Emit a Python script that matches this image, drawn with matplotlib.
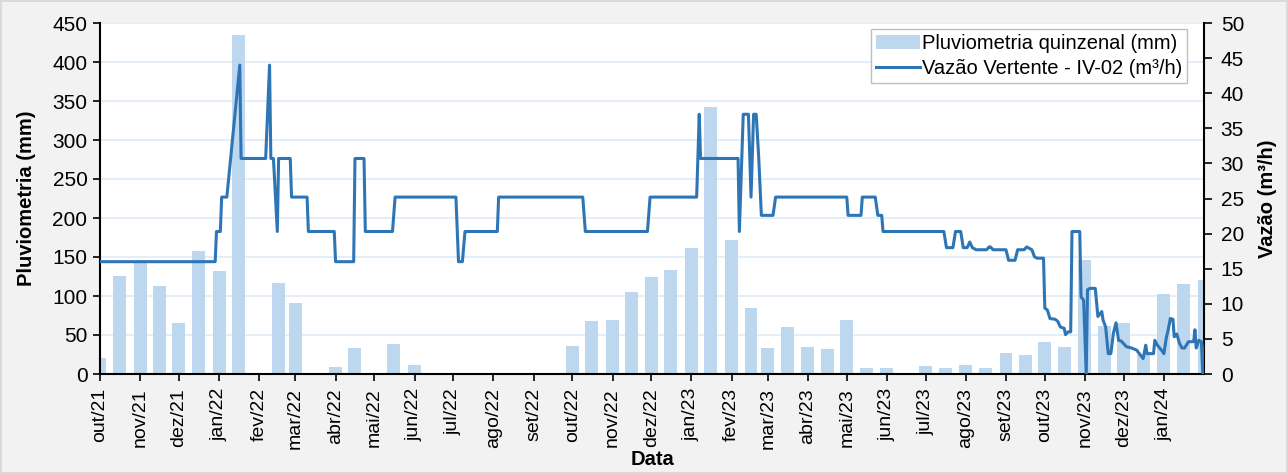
import pandas as pd
import matplotlib
matplotlib.use('Agg')
from matplotlib import pyplot as plt
from matplotlib.patches import Patch
from matplotlib.lines import Line2D

plt.rcParams['font.family'] = ['Liberation Sans', 'DejaVu Sans']

# pluviometria quinzenal (mm), dias 1 e 16 de cada mes
rain_dates = ['2021-10-01', '2021-10-16', '2021-11-01', '2021-11-16', '2021-12-01', '2021-12-16',
              '2022-01-01', '2022-01-16', '2022-02-01', '2022-02-16', '2022-03-01', '2022-03-16',
              '2022-04-01', '2022-04-16', '2022-05-01', '2022-05-16', '2022-06-01', '2022-06-16',
              '2022-07-01', '2022-07-16', '2022-08-01', '2022-08-16', '2022-09-01', '2022-09-16',
              '2022-10-01', '2022-10-16', '2022-11-01', '2022-11-16', '2022-12-01', '2022-12-16',
              '2023-01-01', '2023-01-16', '2023-02-01', '2023-02-16', '2023-03-01', '2023-03-16',
              '2023-04-01', '2023-04-16', '2023-05-01', '2023-05-16', '2023-06-01', '2023-06-16',
              '2023-07-01', '2023-07-16', '2023-08-01', '2023-08-16', '2023-09-01', '2023-09-16',
              '2023-10-01', '2023-10-16', '2023-11-01', '2023-11-16', '2023-12-01', '2023-12-16',
              '2024-01-01', '2024-01-16', '2024-02-01']
rain_mm = [20, 126, 143, 113, 65, 158,
           132, 434, 0, 117, 91, 0,
           9, 33, 0, 39, 11, 0,
           0, 0, 0, 0, 0, 0,
           36, 68, 69, 105, 124, 133,
           162, 342, 172, 85, 33, 60,
           35, 32, 69, 8, 8, 0,
           10, 8, 11, 8, 27, 24,
           41, 34, 146, 61, 66, 25,
           103, 116, 121]

# vazao vertente IV-02 (m3/h)
flow_dates = ['2021-10-01', '2021-12-29', '2021-12-30', '2022-01-02', '2022-01-03', '2022-01-07',
              '2022-01-17', '2022-01-18', '2022-02-06', '2022-02-09', '2022-02-10', '2022-02-12',
              '2022-02-15', '2022-02-16', '2022-02-25', '2022-02-26', '2022-03-10', '2022-03-11',
              '2022-03-31', '2022-04-01', '2022-04-15', '2022-04-16', '2022-04-23', '2022-04-24',
              '2022-05-15', '2022-05-17', '2022-07-03', '2022-07-05', '2022-07-08', '2022-07-10',
              '2022-08-04', '2022-08-05', '2022-10-09', '2022-10-11', '2022-11-28', '2022-11-30',
              '2023-01-05', '2023-01-07', '2023-01-08', '2023-02-06', '2023-02-07', '2023-02-10',
              '2023-02-14', '2023-02-16', '2023-02-18', '2023-02-20', '2023-02-22', '2023-02-24',
              '2023-03-05', '2023-03-07', '2023-05-01', '2023-05-02', '2023-05-12', '2023-05-13',
              '2023-05-23', '2023-05-25', '2023-05-28', '2023-05-29', '2023-07-15', '2023-07-17',
              '2023-07-22', '2023-07-24', '2023-07-28', '2023-07-30', '2023-08-02', '2023-08-04',
              '2023-08-06', '2023-08-09', '2023-08-17', '2023-08-19', '2023-08-20', '2023-08-22',
              '2023-09-01', '2023-09-03', '2023-09-08', '2023-09-10', '2023-09-15', '2023-09-17',
              '2023-09-21', '2023-09-23', '2023-09-25', '2023-09-30', '2023-10-01', '2023-10-03',
              '2023-10-05', '2023-10-09', '2023-10-11', '2023-10-13', '2023-10-16', '2023-10-17',
              '2023-10-19', '2023-10-21', '2023-10-22', '2023-10-28', '2023-10-29', '2023-10-31',
              '2023-11-02', '2023-11-03', '2023-11-05', '2023-11-09', '2023-11-11', '2023-11-14',
              '2023-11-15', '2023-11-17', '2023-11-19', '2023-11-21', '2023-11-23', '2023-11-25',
              '2023-11-27', '2023-11-29', '2023-12-03', '2023-12-07', '2023-12-11', '2023-12-13',
              '2023-12-16', '2023-12-18', '2023-12-19', '2023-12-24', '2023-12-25', '2023-12-27',
              '2023-12-31', '2024-01-01', '2024-01-03', '2024-01-04', '2024-01-06', '2024-01-08',
              '2024-01-09', '2024-01-11', '2024-01-13', '2024-01-15', '2024-01-17', '2024-01-20',
              '2024-01-24', '2024-01-25', '2024-01-26', '2024-01-28', '2024-01-30', '2024-01-31',
              '2024-02-02']
flow_m3h = [16.0, 16.0, 20.3, 20.3, 25.2, 25.2,
            44.0, 30.7, 30.7, 44.0, 30.7, 30.7,
            20.3, 30.7, 30.7, 25.2, 25.2, 20.3,
            20.3, 16.0, 16.0, 30.7, 30.7, 20.3,
            20.3, 25.2, 25.2, 16.0, 16.0, 20.3,
            20.3, 25.2, 25.2, 20.3, 20.3, 25.2,
            25.2, 37.0, 30.7, 30.7, 20.3, 37.0,
            37.0, 25.2, 37.0, 37.0, 30.7, 22.6,
            22.6, 25.2, 25.2, 22.6, 22.6, 25.2,
            25.2, 22.6, 22.6, 20.3, 20.3, 18.0,
            18.0, 20.3, 20.3, 18.0, 18.0, 18.8,
            18.0, 17.7, 17.7, 18.1, 18.1, 17.7,
            17.7, 16.2, 16.2, 17.7, 17.7, 18.1,
            17.7, 16.7, 16.5, 16.5, 9.4, 9.1,
            7.9, 7.8, 7.5, 6.7, 6.5, 5.6,
            6.0, 6.0, 20.3, 20.3, 11.0, 10.5,
            0.0, 12.0, 12.2, 12.2, 8.2, 8.9,
            7.7, 6.7, 2.9, 2.9, 5.8, 7.3,
            4.8, 4.7, 3.9, 3.7, 3.4, 2.9,
            2.2, 4.1, 2.9, 2.9, 4.8, 4.1,
            3.2, 2.9, 5.3, 6.0, 7.9, 7.8,
            5.3, 5.7, 4.4, 3.7, 3.7, 4.6,
            4.6, 6.3, 3.7, 4.8, 4.6, 0.0,
            4.8]

month_ticks = pd.date_range('2021-10-01', '2024-01-01', freq='MS')
month_names = ['jan', 'fev', 'mar', 'abr', 'mai', 'jun', 'jul', 'ago', 'set', 'out', 'nov', 'dez']
tick_labels = [f'{month_names[d.month - 1]}/{d.strftime("%y")}' for d in month_ticks]

bar_color = '#bdd7ee'
line_color = '#2e75b6'

fig = plt.figure(figsize=(12.88, 4.74), dpi=100, facecolor='#f2f2f2',
                 edgecolor='#d9d9d9', linewidth=1.5)
ax = fig.add_axes([100 / 1288, 100 / 474, 1104 / 1288, 351 / 474])
ax.set_facecolor('white')

ax.bar(pd.to_datetime(rain_dates), rain_mm, width=10, color=bar_color, zorder=2)
ax.set_ylim(0, 450)
ax.set_yticks(range(0, 451, 50))
ax.grid(axis='y', color='#deebf7', linewidth=1.2, zorder=0)
ax.set_axisbelow(True)
ax.set_xlim(pd.Timestamp('2021-10-01'), pd.Timestamp('2024-02-01'))
ax.set_xticks(month_ticks)
ax.set_xticklabels(tick_labels, rotation=90)
ax.tick_params(axis='x', labelsize=14, direction='out', length=5, width=1.2, pad=5)
ax.tick_params(axis='y', labelsize=15, direction='out', length=5, width=1.2, pad=4)
ax.set_ylabel('Pluviometria (mm)', fontsize=14.5, fontweight='bold', labelpad=12)
ax.set_xlabel('Data', fontsize=14.5, fontweight='bold', labelpad=1)

ax2 = ax.twinx()
ax2.plot(pd.to_datetime(flow_dates), flow_m3h, color=line_color, linewidth=2.2, zorder=3)
ax2.set_ylim(0, 50)
ax2.set_yticks(range(0, 51, 5))
ax2.tick_params(axis='y', labelsize=15, direction='out', length=6, width=1.2, pad=6)
ax2.set_ylabel('Vazão (m³/h)', fontsize=14.5, fontweight='bold', labelpad=10)
ax2.set_xlim(pd.Timestamp('2021-10-01'), pd.Timestamp('2024-02-01'))

for a in (ax, ax2):
    a.spines['top'].set_visible(False)
    for s in ('left', 'right', 'bottom'):
        a.spines[s].set_linewidth(1.5)
ax.spines['right'].set_visible(False)
ax2.spines['left'].set_visible(False)
ax2.spines['bottom'].set_visible(False)

handles = [Patch(facecolor=bar_color, edgecolor='none'),
           Line2D([0], [0], color=line_color, linewidth=2.2)]
leg = ax2.legend(handles, ['Pluviometria quinzenal (mm)', 'Vazão Vertente - IV-02 (m³/h)'],
                 loc='upper right', bbox_to_anchor=(0.985, 0.983), fontsize=14.5, frameon=True,
                 fancybox=False, edgecolor='#bfbfbf', framealpha=1, borderpad=0.25,
                 handlelength=2.2, handletextpad=0.1, labelspacing=0.3, borderaxespad=0)
leg.get_frame().set_linewidth(1.0)

fig.savefig('out.png', dpi=100, facecolor=fig.get_facecolor(), edgecolor=fig.get_edgecolor())
